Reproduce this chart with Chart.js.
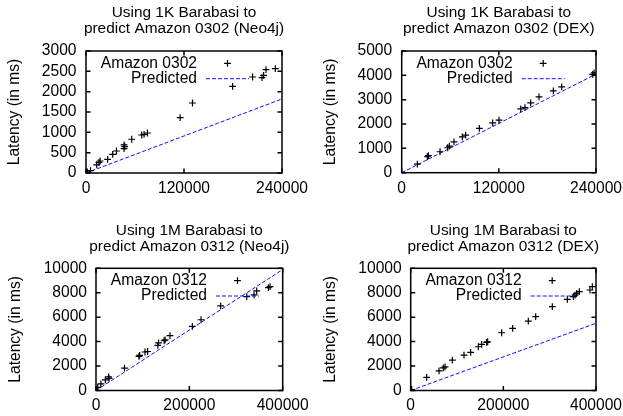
<!DOCTYPE html>
<html>
<head>
<meta charset="utf-8">
<script src="https://cdn.jsdelivr.net/npm/chart.js@4"></script>
<style>
html,body{margin:0;padding:0;background:#fff;}
body{width:623px;height:416px;position:relative;overflow:hidden;}
canvas{position:absolute;}
</style>
</head>
<body>
<canvas id="c1" width="311" height="205" style="left:0px;top:0px"></canvas>
<canvas id="c2" width="312" height="205" style="left:311px;top:0px"></canvas>
<canvas id="c3" width="311" height="211" style="left:0px;top:205px"></canvas>
<canvas id="c4" width="312" height="211" style="left:311px;top:205px"></canvas>
<script>
// ---------- data ----------
const yAxisLabel = 'Latency (in ms)';

const title1 = ['Using 1K Barabasi to', 'predict Amazon 0302 (Neo4j)'];
const title2 = ['Using 1K Barabasi to', 'predict Amazon 0302 (DEX)'];
const title3 = ['Using 1M Barabasi to', 'predict Amazon 0312 (Neo4j)'];
const title4 = ['Using 1M Barabasi to', 'predict Amazon 0312 (DEX)'];

const seriesTop = 'Amazon 0302';
const seriesBottom = 'Amazon 0312';
const seriesPred = 'Predicted';

// Panel 1: 1K Barabasi -> Amazon 0302 (Neo4j)
const neo0302X = [1600, 5500, 13100, 15900, 17200, 26500, 32700, 37300, 46600, 46600, 47400, 56000, 68200, 71100, 75200, 115300, 130400, 179500, 204000, 215500, 217500, 220400, 231800];
const neo0302Y = [25, 60, 200, 262, 295, 336, 459, 541, 600, 690, 650, 830, 935, 951, 984, 1361, 1721, 2131, 2361, 2344, 2402, 2541, 2566];
const neo0302PredX = [0, 240000];
const neo0302PredY = [0, 1820];

// Panel 2: 1K Barabasi -> Amazon 0302 (DEX)
const dex0302X = [19350, 31700, 33000, 47350, 56800, 58900, 64600, 74900, 79000, 95900, 112400, 120200, 147000, 152300, 159300, 169600, 187300, 197600, 235900, 237600];
const dex0302Y = [355, 656, 700, 861, 1025, 1093, 1270, 1475, 1544, 1817, 2049, 2158, 2623, 2677, 2869, 3115, 3360, 3524, 4043, 4098];
const dex0302PredX = [0, 240000];
const dex0302PredY = [0, 4050];

// Panel 3: 1M Barabasi -> Amazon 0312 (Neo4j)
const neo0312X = [3600, 10500, 20000, 27000, 28000, 61000, 92000, 93500, 105000, 110500, 132500, 134000, 146000, 148000, 158500, 206400, 225000, 267100, 322900, 338600, 344300, 369300, 372900];
const neo0312Y = [260, 550, 870, 1120, 1000, 1830, 2800, 2880, 3150, 3190, 3700, 3890, 4070, 4140, 4490, 5244, 5788, 6929, 7689, 7825, 8151, 8423, 8504];
const neo0312PredX = [0, 400000];
const neo0312PredY = [0, 9900];

// Panel 4: 1M Barabasi -> Amazon 0312 (DEX)
const dex0312X = [2200, 34500, 61150, 70500, 74100, 89900, 115100, 129500, 146000, 153200, 164000, 166200, 196400, 220100, 253900, 269800, 305700, 338100, 351100, 354700, 358300, 364000, 387000, 392000];
const dex0312Y = [80, 1066, 1612, 1858, 1940, 2486, 2896, 3114, 3579, 3770, 3934, 3989, 4726, 5082, 5683, 6038, 6857, 7458, 7677, 7813, 7950, 8087, 8223, 8497];
const dex0312PredX = [0, 400000];
const dex0312PredY = [0, 5500];

// tick settings (values)
const xMaxTop = 240000, xStepTop = 120000;
const xMaxBottom = 400000, xStepBottom = 200000;
const yMax1 = 3000, yStep1 = 500;
const yMax2 = 5000, yStep2 = 1000;
const yMax34 = 10000, yStep34 = 2000;

// ---------- rendering ----------
const FONT = '"Liberation Sans", Arial, Helvetica, sans-serif';
const FS = 15.6;
const TFS = 15.4;
Chart.defaults.font.family = FONT;
Chart.defaults.font.size = FS;
Chart.defaults.color = '#000';

const zip = (xs, ys) => xs.map((x, i) => ({x: x, y: ys[i]}));

// two-line title centred over the plot area (not squeezed to the plot width)
const titlePlugin = {
  id: 'panelTitle',
  afterDraw(chart, args, opts) {
    const {ctx, chartArea: a} = chart;
    ctx.save();
    ctx.font = TFS + 'px ' + FONT;
    ctx.textAlign = 'center';
    ctx.textBaseline = 'middle';
    ctx.fillStyle = '#000';
    const cx = (a.left + a.right) / 2;
    (opts.text || []).forEach((line, i) => {
      ctx.fillText(line, cx, opts.y0 + i * opts.lineGap);
    });
    ctx.restore();
  }
};

const framePlugin = {
  id: 'frame',
  afterDatasetsDraw(chart) {
    const {ctx, chartArea: a, scales} = chart;
    const xs = scales.x, ys = scales.y;
    ctx.save();
    ctx.strokeStyle = '#000';
    ctx.lineWidth = 1.5;
    ctx.setLineDash([]);
    ctx.strokeRect(a.left, a.top, a.right - a.left, a.bottom - a.top);
    ctx.beginPath();
    const tl = 4.5;
    xs.ticks.forEach(t => {
      const px = xs.getPixelForValue(t.value);
      ctx.moveTo(px, a.bottom); ctx.lineTo(px, a.bottom - tl);
      ctx.moveTo(px, a.top); ctx.lineTo(px, a.top + tl);
    });
    ys.ticks.forEach(t => {
      const py = ys.getPixelForValue(t.value);
      ctx.moveTo(a.left, py); ctx.lineTo(a.left + tl, py);
      ctx.moveTo(a.right, py); ctx.lineTo(a.right - tl, py);
    });
    ctx.stroke();
    ctx.restore();
  }
};

const keyPlugin = {
  id: 'gnukey',
  afterDatasetsDraw(chart) {
    const {ctx, chartArea: a} = chart;
    ctx.save();
    ctx.font = FS + 'px ' + FONT;
    ctx.textAlign = 'right';
    ctx.textBaseline = 'middle';
    ctx.fillStyle = '#000';
    chart.data.datasets.forEach((ds, i) => {
      const y = a.top + 12.3 + i * 15.4;
      ctx.fillText(ds.label, a.left + 111, y);
      const x0 = a.left + 120, x1 = a.left + 163, xc = (x0 + x1) / 2;
      ctx.beginPath();
      ctx.strokeStyle = ds.borderColor;
      ctx.lineWidth = ds.borderWidth;
      if (ds.showLine) {
        ctx.setLineDash(ds.borderDash || []);
        ctx.moveTo(x0, y); ctx.lineTo(x1, y);
      } else {
        ctx.setLineDash([]);
        const r = ds.pointRadius;
        ctx.moveTo(xc - r, y); ctx.lineTo(xc + r, y);
        ctx.moveTo(xc, y - r); ctx.lineTo(xc, y + r);
      }
      ctx.stroke();
    });
    ctx.restore();
  }
};

function makePanel(id, p) {
  new Chart(document.getElementById(id), {
    type: 'scatter',
    data: {
      datasets: [
        {
          label: p.seriesName,
          data: zip(p.xs, p.ys),
          pointStyle: 'cross',
          pointRadius: 3.4,
          pointHoverRadius: 3.4,
          borderColor: '#000',
          backgroundColor: '#000',
          borderWidth: 1.2,
          showLine: false
        },
        {
          label: seriesPred,
          data: zip(p.px, p.py),
          showLine: true,
          pointRadius: 0,
          borderColor: '#1010ff',
          borderWidth: 1,
          borderDash: [4, 2],
          fill: false
        }
      ]
    },
    options: {
      responsive: false,
      animation: false,
      events: [],
      layout: { padding: { left: 0, right: p.padRight, top: p.plotTop, bottom: 0 } },
      plugins: {
        legend: { display: false },
        tooltip: { enabled: false },
        title: { display: false },
        panelTitle: { text: p.title, y0: p.titleY0, lineGap: 16 }
      },
      scales: {
        x: {
          type: 'linear',
          position: 'bottom',
          min: 0, max: p.xMax,
          grid: { display: false, drawTicks: false },
          border: { display: false },
          ticks: { stepSize: p.xStep, padding: p.xTickPad, maxRotation: 0, autoSkip: false,
                   callback: v => String(v), font: { size: FS, family: FONT } },
          afterFit(s) { s.height = p.xAxisH; s.paddingLeft = 0; s.paddingRight = 0; s.paddingTop = 0; s.paddingBottom = 0; }
        },
        y: {
          type: 'linear',
          position: 'left',
          min: 0, max: p.yMax,
          grid: { display: false, drawTicks: false },
          border: { display: false },
          ticks: { stepSize: p.yStep, padding: p.yTickPad, autoSkip: false,
                   callback: v => String(v), font: { size: FS, family: FONT } },
          title: { display: true, text: yAxisLabel, color: '#000',
                   font: { size: FS, family: FONT, lineHeight: '16px' },
                   padding: { top: p.yTitlePad, bottom: 0 } },
          afterFit(s) { s.width = p.yAxisW; s.paddingLeft = 0; s.paddingRight = 0; s.paddingTop = 0; s.paddingBottom = 0; }
        }
      }
    },
    plugins: [framePlugin, keyPlugin, titlePlugin]
  });
}

makePanel('c1', { title: title1, seriesName: seriesTop, xs: neo0302X, ys: neo0302Y, px: neo0302PredX, py: neo0302PredY,
  xMax: xMaxTop, xStep: xStepTop, yMax: yMax1, yStep: yStep1,
  plotTop: 51, titleY0: 12.3, padRight: 29, xAxisH: 32, yAxisW: 86, xTickPad: 6.5, yTickPad: 9.5, yTitlePad: 7 });
makePanel('c2', { title: title2, seriesName: seriesTop, xs: dex0302X, ys: dex0302Y, px: dex0302PredX, py: dex0302PredY,
  xMax: xMaxTop, xStep: xStepTop, yMax: yMax2, yStep: yStep2,
  plotTop: 51, titleY0: 12.3, padRight: 27, xAxisH: 32.3, yAxisW: 90.7, xTickPad: 6.5, yTickPad: 9.5, yTitlePad: 11.5 });
makePanel('c3', { title: title3, seriesName: seriesBottom, xs: neo0312X, ys: neo0312Y, px: neo0312PredX, py: neo0312PredY,
  xMax: xMaxBottom, xStep: xStepBottom, yMax: yMax34, yStep: yStep34,
  plotTop: 63.3, titleY0: 25.5, padRight: 28.3, xAxisH: 25.5, yAxisW: 96, xTickPad: 6, yTickPad: 9, yTitlePad: 7.8 });
makePanel('c4', { title: title4, seriesName: seriesBottom, xs: dex0312X, ys: dex0312Y, px: dex0312PredX, py: dex0312PredY,
  xMax: xMaxBottom, xStep: xStepBottom, yMax: yMax34, yStep: yStep34,
  plotTop: 63.3, titleY0: 25.5, padRight: 27, xAxisH: 25.5, yAxisW: 99.7, xTickPad: 6, yTickPad: 9, yTitlePad: 11.8 });
</script>
</body>
</html>
